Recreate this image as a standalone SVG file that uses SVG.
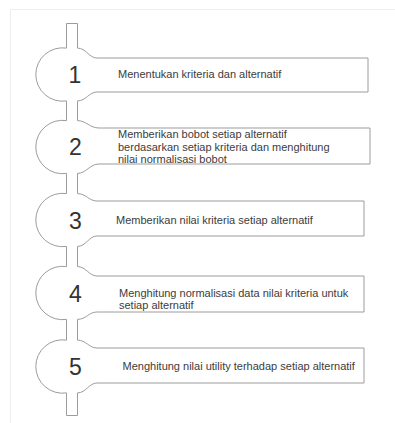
<svg xmlns="http://www.w3.org/2000/svg" width="395" height="423" viewBox="0 0 395 423">
<style>
.ln{fill:none;stroke:#9c9c9c;stroke-width:1}
.num{font-family:"Liberation Sans",Arial,sans-serif;font-size:23px;fill:#333;text-anchor:middle}
.txt{font-family:"Liberation Sans",Arial,sans-serif;font-size:11px;fill:#3c3c3c}
</style>
<rect width="395" height="423" fill="#fff"/>
<path d="M10.5,423 V9.5 H395" fill="none" stroke="#ededed" stroke-width="1"/>
<g id="connectors">
<path class="ln" d="M66.5,48.1 V23.5 H77.5 V48.1"/>
<path class="ln" d="M66.5,100.9 V120.6 M77.5,100.9 V120.6"/>
<path class="ln" d="M66.5,173.4 V193.6 M77.5,173.4 V193.6"/>
<path class="ln" d="M66.5,246.4 V266.6 M77.5,246.4 V266.6"/>
<path class="ln" d="M66.5,319.4 V340.1 M77.5,319.4 V340.1"/>
<path class="ln" d="M66.5,392.9 V415.5 H77.5 V392.9"/>
</g>
<g id="node1">
<path class="ln" d="M66.5,48.1 A26.7,26.7 0 1 0 66.5,100.9"/>
<path class="ln" d="M77.5,100.9 C86,100.9 89,92 97,92 H368 V58 H97 C89,58 86,48.1 77.5,48.1"/>
<text class="num" x="75" y="82.8">1</text>
<text class="txt" x="118" y="78">Menentukan kriteria dan alternatif</text>
</g>
<g id="node2">
<path class="ln" d="M66.5,120.6 A26.7,26.7 0 1 0 66.5,173.4"/>
<path class="ln" d="M77.5,173.4 C86,173.4 90,164 99,164 H370 V128 H99 C90,128 86,120.6 77.5,120.6"/>
<text class="num" x="75.5" y="155.3">2</text>
<text class="txt" x="118" y="138.3">Memberikan bobot setiap alternatif</text>
<text class="txt" x="118" y="150.8">berdasarkan setiap kriteria dan menghitung</text>
<text class="txt" x="118" y="163.3">nilai normalisasi bobot</text>
</g>
<g id="node3">
<path class="ln" d="M66.5,193.6 A26.7,26.7 0 1 0 66.5,246.4"/>
<path class="ln" d="M77.5,246.4 C86,246.4 89,236 97,236 H364 V201 H97 C89,201 86,193.6 77.5,193.6"/>
<text class="num" x="75.5" y="229">3</text>
<text class="txt" x="116" y="223.5">Memberikan nilai kriteria setiap alternatif</text>
</g>
<g id="node4">
<path class="ln" d="M66.5,266.6 A26.7,26.7 0 1 0 66.5,319.4"/>
<path class="ln" d="M77.5,319.4 C86,319.4 89,312 97,312 H364 V276 H97 C89,276 86,266.6 77.5,266.6"/>
<text class="num" x="75.5" y="301.7">4</text>
<text class="txt" x="119" y="297">Menghitung normalisasi data nilai kriteria untuk</text>
<text class="txt" x="119" y="309">setiap alternatif</text>
</g>
<g id="node5">
<path class="ln" d="M66.5,340.1 A26.7,26.7 0 1 0 66.5,392.9"/>
<path class="ln" d="M77.5,392.9 C86,392.9 89,383 97,383 H364 V348 H97 C89,348 86,340.1 77.5,340.1"/>
<text class="num" x="75.5" y="375">5</text>
<text class="txt" x="122.5" y="370">Menghitung nilai utility terhadap setiap alternatif</text>
</g>
</svg>
